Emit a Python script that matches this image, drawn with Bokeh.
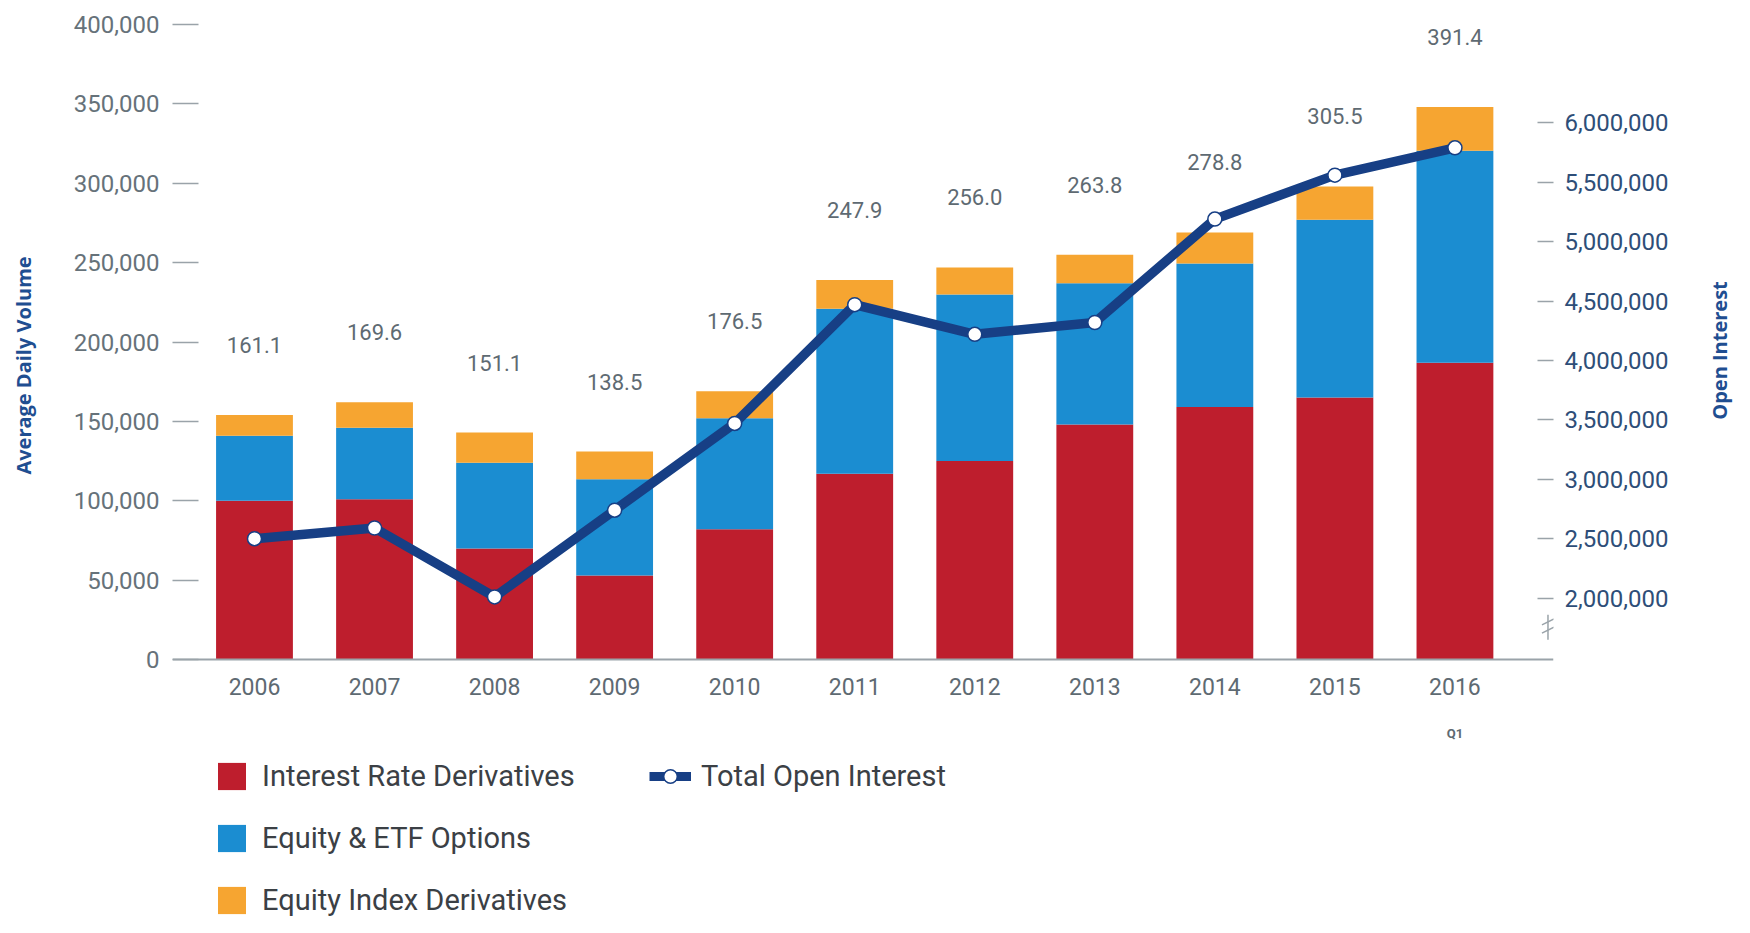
import math
from bokeh.plotting import figure
from bokeh.layouts import column, row
from bokeh.models import (ColumnDataSource, Range1d, LinearAxis, FixedTicker, Span,
                          NumeralTickFormatter, Legend, LegendItem, LabelSet, Label)
from bokeh.core.properties import value
from bokeh.embed import file_html
from bokeh.resources import INLINE

# ---------------- data ----------------
years = ["2006", "2007", "2008", "2009", "2010", "2011", "2012", "2013", "2014", "2015", "2016"]
interest_rate = [100000, 101000, 70000, 53000, 82000, 117000, 125000, 148000, 159000, 165000, 187000]
equity_etf = [41000, 45000, 54000, 60500, 70000, 104000, 105000, 89000, 90500, 112000, 133500]
equity_index = [13000, 16000, 19000, 17500, 17000, 18000, 17000, 18000, 19500, 21000, 27500]
open_interest = [2500000, 2590000, 2010000, 2740000, 3470000, 4470000, 4220000, 4320000,
                 5190000, 5560000, 5790000]
total_labels = ["161.1", "169.6", "151.1", "138.5", "176.5", "247.9", "256.0", "263.8",
                "278.8", "305.5", "391.4"]
left_ticks = [0, 50000, 100000, 150000, 200000, 250000, 300000, 350000, 400000]
right_ticks = [2000000, 2500000, 3000000, 3500000, 4000000, 4500000, 5000000, 5500000, 6000000]
series_names = ["Interest Rate Derivatives", "Equity & ETF Options", "Equity Index Derivatives"]
line_name = "Total Open Interest"
sub_label = "Q1"
left_title = "Average Daily Volume"
right_title = "Open Interest"

# ---------------- style ----------------
RED = "#BE1E2D"
BLUE = "#1B8DD1"
ORANGE = "#F6A531"
NAVY = "#173F85"
GRAY_AX = "#9AA3A9"
GRAY_TXT = "#5E6A72"
TITLE_BLUE = "#1F4E91"
FONT = "Roboto"

xs = list(range(len(years)))
totals = [a + b + c for a, b, c in zip(interest_rate, equity_etf, equity_index)]
zeros = [0] * len(xs)
src = ColumnDataSource(dict(x=xs, ir=interest_rate, eq=equity_etf, idx=equity_index,
                            oi=open_interest, total=totals, lab=total_labels,
                            year=years, base=zeros))

H_TOTAL = 917
W_LEFT = 46
W_RIGHT = 36
W_MAIN = 1734 - W_LEFT - W_RIGHT
H_MAIN = 702
H_LEG = H_TOTAL - H_MAIN
B_LEFT = 126
B_RIGHT = 145


def blank(width, height):
    f = figure(width=width, height=height, output_backend="svg", toolbar_location=None,
               x_range=Range1d(0, width), y_range=Range1d(0, height),
               x_axis_location=None, y_axis_location=None,
               min_border_left=0, min_border_right=0, min_border_top=0, min_border_bottom=0)
    f.outline_line_color = None
    f.xgrid.visible = False
    f.ygrid.visible = False
    return f


# ---------------- main chart ----------------
p = figure(width=W_MAIN, height=H_MAIN, output_backend="svg", toolbar_location=None,
           x_range=Range1d(-0.683, 10.821), y_range=Range1d(-25800, 400000),
           x_axis_location=None,
           min_border_left=B_LEFT, min_border_right=B_RIGHT, min_border_top=24, min_border_bottom=2)
p.extra_y_ranges = {"oi": Range1d(1138000, 6828000)}
p.outline_line_color = None
p.xgrid.visible = False
p.ygrid.visible = False

bars = p.vbar_stack(["ir", "eq", "idx"], x="x", width=0.64, source=src,
                    color=[RED, BLUE, ORANGE], line_color=None)

p.add_layout(Span(location=0, dimension="width", line_color=GRAY_AX, line_width=2))

p.line("x", "oi", source=src, y_range_name="oi", line_color=NAVY, line_width=9.5)
p.scatter("x", "oi", source=src, y_range_name="oi", size=14, fill_color="white",
          line_color=NAVY, line_width=1.5)

p.add_layout(LabelSet(x="x", y="total", text="lab", source=src, y_offset=70,
                      text_align="center", text_baseline="middle",
                      text_font=value(FONT), text_font_size="22px", text_color=GRAY_TXT))

p.add_layout(LabelSet(x="x", y="base", text="year", source=src, y_offset=-27,
                      text_align="center", text_baseline="middle",
                      text_font=value(FONT), text_font_size="23px", text_color=GRAY_TXT))

ya = p.yaxis[0]
ya.ticker = FixedTicker(ticks=left_ticks)
ya.formatter = NumeralTickFormatter(format="0,0")
ya.major_tick_in = 26
ya.major_tick_out = 0
ya.minor_tick_line_color = None
ya.major_tick_line_color = GRAY_AX
ya.major_tick_line_width = 1.5
ya.axis_line_color = None
ya.major_label_standoff = 13
ya.major_label_text_font = FONT
ya.major_label_text_font_size = "24px"
ya.major_label_text_color = "#66727A"

ra = LinearAxis(y_range_name="oi", ticker=FixedTicker(ticks=right_ticks),
                formatter=NumeralTickFormatter(format="0,0"))
ra.major_tick_in = 16
ra.major_tick_out = 0
ra.minor_tick_line_color = None
ra.major_tick_line_color = GRAY_AX
ra.major_tick_line_width = 1.5
ra.axis_line_color = None
ra.major_label_standoff = 11
ra.major_label_text_font = FONT
ra.major_label_text_font_size = "24px"
ra.major_label_text_color = "#2E4E78"
p.add_layout(ra, "right")

# axis break mark on the right axis
bx = 10.775
p.segment(x0=[bx, bx - 0.05, bx - 0.05], y0=[1650000, 1775000, 1705000],
          x1=[bx, bx + 0.05, bx + 0.05], y1=[1860000, 1825000, 1755000],
          y_range_name="oi", line_color=GRAY_AX, line_width=1.5)

# ---------------- legend strip below the chart ----------------
p2 = figure(width=W_MAIN, height=H_LEG, output_backend="svg", toolbar_location=None,
            x_range=p.x_range, y_range=Range1d(0, H_LEG),
            x_axis_location=None, y_axis_location=None,
            min_border_left=B_LEFT, min_border_right=B_RIGHT, min_border_top=0, min_border_bottom=0)
p2.outline_line_color = None
p2.xgrid.visible = False
p2.ygrid.visible = False

p2.add_layout(Label(x=xs[-1], y=H_LEG - 31, text=sub_label, text_align="center",
                    text_baseline="middle", text_font=FONT, text_font_size="13px",
                    text_font_style="bold", text_color=GRAY_TXT))

OFF = -100  # legend proxies kept outside the visible strip
sw = []
for c in [RED, BLUE, ORANGE]:
    sw.append(p2.vbar(x=[xs[0]], top=[OFF], bottom=[OFF], width=0.5, fill_color=c, line_color=None))
ln = p2.line(x=[xs[0], xs[1]], y=[OFF, OFF], line_color=NAVY, line_width=9)
dt = p2.scatter(x=[xs[0]], y=[OFF], size=11, fill_color="white", line_color=NAVY, line_width=1.5)

leg1 = Legend(items=[LegendItem(label=series_names[i], renderers=[sw[i]]) for i in range(3)],
              location=(42, 0), orientation="vertical",
              glyph_width=35, glyph_height=34, label_height=34, spacing=28,
              padding=0, margin=0, label_standoff=13,
              label_text_font=FONT, label_text_font_size="29px", label_text_color="#3B4045",
              border_line_color=None, background_fill_alpha=0)
leg2 = Legend(items=[LegendItem(label=line_name, renderers=[ln, dt])],
              location=(477, 124), orientation="vertical",
              glyph_width=42, glyph_height=34, label_height=34, spacing=28,
              padding=0, margin=0, label_standoff=10,
              label_text_font=FONT, label_text_font_size="29px", label_text_color="#3B4045",
              border_line_color=None, background_fill_alpha=0)
p2.add_layout(leg1, "center")
p2.add_layout(leg2, "center")

# ---------------- axis titles (both read bottom-to-top) ----------------
pl = blank(W_LEFT, H_TOTAL)
pl.add_layout(Label(x=23, y=H_TOTAL - 365, text=left_title, angle=math.pi / 2,
                    text_align="center", text_baseline="middle", text_font="Open Sans",
                    text_font_style="bold", text_font_size="20px", text_color=TITLE_BLUE))
pr = blank(W_RIGHT, H_TOTAL)
pr.add_layout(Label(x=21, y=H_TOTAL - 350, text=right_title, angle=math.pi / 2,
                    text_align="center", text_baseline="middle", text_font="Open Sans",
                    text_font_style="bold", text_font_size="20px", text_color=TITLE_BLUE))

layout = row(pl, column(p, p2, spacing=0), pr, spacing=0)
open("out.html", "w").write(file_html(layout, INLINE))
